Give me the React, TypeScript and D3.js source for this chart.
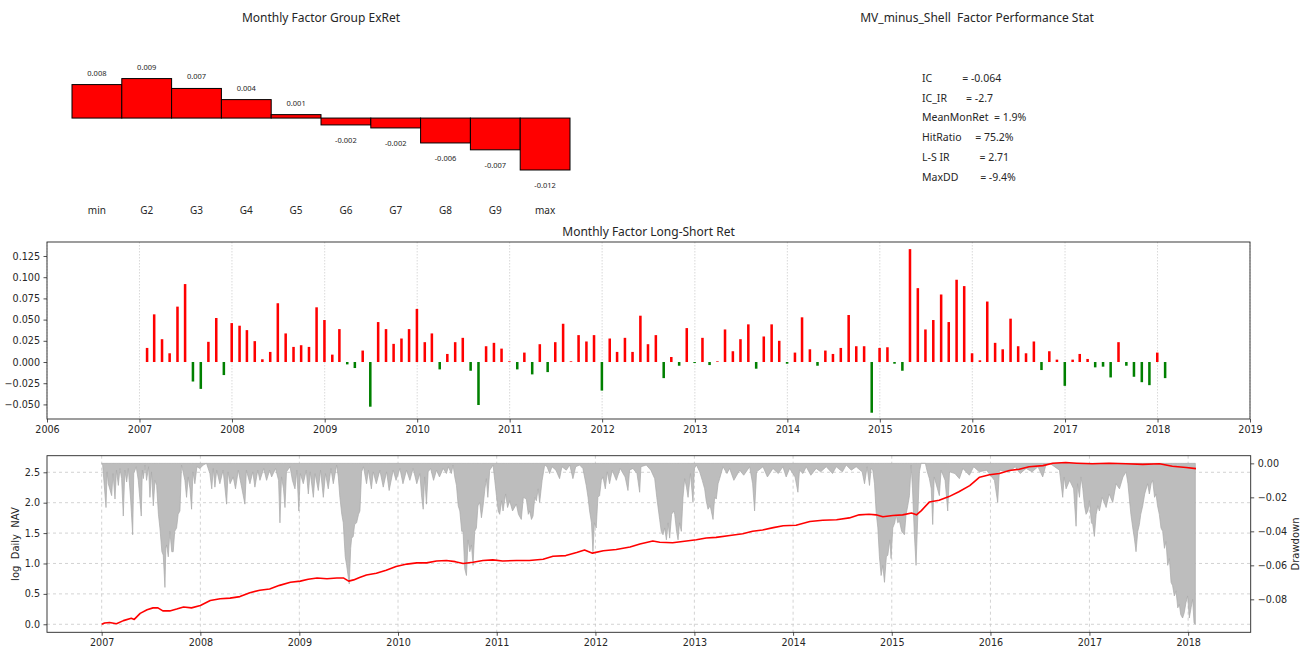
import * as d3 from 'd3';
import React, { useEffect, useRef } from 'react';

// ---- top left: group excess returns ----
const groupNames = ['min', 'G2', 'G3', 'G4', 'G5', 'G6', 'G7', 'G8', 'G9', 'max'];
const groupRet = [0.0078, 0.0092, 0.0069, 0.0043, 0.0008, -0.0016, -0.0023, -0.0058, -0.0074, -0.0121];

// ---- top right: stats ----
const statLabels = ['IC', 'IC_IR', 'MeanMonRet', 'HitRatio', 'L-S IR', 'MaxDD'];
const statValues = ['-0.064', '-2.7', '1.9%', '75.2%', '2.71', '-9.4%'];
const statGap = [11, 7, 2, 5, 11, 8];

// ---- middle: monthly long-short return, month ends from 2007-01 ----
const lsStartYear = 2007;
const lsMonthly = [
  // 2007
  0.0166, 0.0562, 0.0269, 0.0103, 0.0653, 0.0919, -0.023, -0.0317, 0.0238, 0.0519, -0.0154, 0.0459,
  // 2008
  0.0428, 0.0376, 0.0246, 0.0032, 0.0119, 0.0693, 0.0337, 0.0178, 0.0198, 0.0178, 0.0645, 0.0495,
  // 2009
  0.0087, 0.0388, -0.0028, -0.0071, 0.0135, -0.0527, 0.0471, 0.0388, 0.0214, 0.0277, 0.0388, 0.0626,
  // 2010
  0.0234, 0.0337, -0.0087, 0.0095, 0.0234, 0.0285, -0.0103, -0.0507, 0.0186, 0.0226, 0.0158, 0.0008,
  // 2011
  -0.0087, 0.0111, -0.0146, 0.021, -0.0119, 0.0234, 0.0451, 0.0008, 0.0317, 0.0242, 0.0317, -0.0337,
  // 2012
  0.0277, 0.0119, 0.0285, 0.0119, 0.0546, 0.021, 0.0317, -0.019, 0.0059, -0.0044, 0.04, -0.0012,
  // 2013
  0.0285, -0.0036, 0.0008, 0.0384, 0.0127, 0.0269, 0.0444, -0.0079, 0.0301, 0.0444, 0.025, -0.002,
  // 2014
  0.0111, 0.0527, 0.015, -0.0044, 0.0135, 0.0095, 0.0166, 0.0554, 0.0186, 0.0186, -0.0598, 0.0166,
  // 2015
  0.0174, -0.002, -0.0103, 0.1331, 0.0871, 0.0384, 0.0495, 0.0796, 0.0471, 0.097, 0.0895, 0.0103,
  // 2016
  0.002, 0.0713, 0.0226, 0.015, 0.0511, 0.0186, 0.0103, 0.0242, -0.0095, 0.0127, 0.0028, -0.0281,
  // 2017
  0.0028, 0.0095, 0.0036, -0.0063, -0.0055, -0.0182, 0.0234, -0.0044, -0.0174, -0.0238, -0.0273, 0.0111,
  // 2018
  -0.019,
];
const lsYLim = [-0.0672, 0.1415];
const lsYTicks = [-0.05, -0.025, 0, 0.025, 0.05, 0.075, 0.1, 0.125];

// ---- bottom: log daily NAV [decimal year, value] ----
const navPoints: [number, number][] = [
  [2007.0, 0.0], [2007.03, 0.02], [2007.08, 0.03], [2007.15, 0.01], [2007.22, 0.06], [2007.3, 0.1],
  [2007.33, 0.08], [2007.39, 0.18], [2007.46, 0.24], [2007.52, 0.27], [2007.57, 0.27], [2007.62, 0.22],
  [2007.69, 0.22], [2007.76, 0.25], [2007.83, 0.285], [2007.91, 0.27], [2008.0, 0.31], [2008.1, 0.39],
  [2008.2, 0.42], [2008.3, 0.43], [2008.4, 0.455], [2008.5, 0.52], [2008.6, 0.56], [2008.7, 0.58],
  [2008.8, 0.64], [2008.91, 0.69], [2009.01, 0.71], [2009.09, 0.74], [2009.18, 0.76], [2009.28, 0.75],
  [2009.38, 0.76], [2009.45, 0.76], [2009.5, 0.71], [2009.55, 0.73], [2009.61, 0.77], [2009.68, 0.81],
  [2009.78, 0.84], [2009.88, 0.89], [2009.98, 0.95], [2010.09, 0.99], [2010.19, 1.01], [2010.29, 1.01],
  [2010.39, 1.04], [2010.49, 1.05], [2010.58, 1.03], [2010.66, 1.0], [2010.76, 1.02], [2010.86, 1.05],
  [2010.96, 1.06], [2011.06, 1.04], [2011.2, 1.05], [2011.33, 1.05], [2011.47, 1.07], [2011.57, 1.12],
  [2011.7, 1.13], [2011.81, 1.18], [2011.89, 1.22], [2011.97, 1.17], [2012.08, 1.21], [2012.21, 1.23],
  [2012.35, 1.27], [2012.45, 1.32], [2012.58, 1.37], [2012.65, 1.35], [2012.78, 1.34], [2012.92, 1.37],
  [2013.02, 1.39], [2013.12, 1.42], [2013.22, 1.43], [2013.36, 1.46], [2013.49, 1.49], [2013.59, 1.53],
  [2013.69, 1.55], [2013.8, 1.59], [2013.9, 1.62], [2014.03, 1.63], [2014.17, 1.69], [2014.3, 1.71],
  [2014.44, 1.72], [2014.57, 1.75], [2014.67, 1.8], [2014.77, 1.81], [2014.84, 1.8], [2014.91, 1.77],
  [2015.01, 1.79], [2015.11, 1.8], [2015.2, 1.83], [2015.25, 1.8], [2015.3, 1.87], [2015.38, 2.01],
  [2015.48, 2.04], [2015.58, 2.1], [2015.68, 2.18], [2015.79, 2.28], [2015.89, 2.42], [2015.99, 2.46],
  [2016.09, 2.48], [2016.19, 2.53], [2016.29, 2.55], [2016.39, 2.59], [2016.53, 2.61], [2016.63, 2.65],
  [2016.76, 2.66], [2016.87, 2.65], [2017.03, 2.64], [2017.2, 2.65], [2017.37, 2.64], [2017.54, 2.63],
  [2017.71, 2.64], [2017.84, 2.6], [2017.98, 2.58], [2018.08, 2.56],
];

// ---- bottom: drawdown [decimal year, value] ----
const ddPoints: [number, number][] = [
  [2007.0, 0], [2007.01, -0.001], [2007.044, -0.026], [2007.055, -0.005], [2007.067, -0.012], [2007.101, -0.019],
  [2007.115, -0.006], [2007.135, -0.021], [2007.15, -0.004], [2007.169, -0.013], [2007.185, -0.003], [2007.202, -0.009],
  [2007.219, -0.031], [2007.235, -0.004], [2007.253, -0.011], [2007.27, -0.003], [2007.293, -0.021], [2007.314, -0.042],
  [2007.325, -0.006], [2007.35, -0.002], [2007.371, -0.01], [2007.401, -0.031], [2007.412, -0.004], [2007.422, -0.009],
  [2007.44, -0.001], [2007.455, -0.01], [2007.475, -0.002], [2007.489, -0.02], [2007.505, -0.005], [2007.523, -0.025],
  [2007.54, -0.01], [2007.557, -0.013], [2007.575, -0.03], [2007.59, -0.038], [2007.61, -0.052], [2007.624, -0.054],
  [2007.641, -0.073], [2007.65, -0.05], [2007.658, -0.048], [2007.675, -0.055], [2007.691, -0.04], [2007.71, -0.052],
  [2007.725, -0.052], [2007.74, -0.04], [2007.759, -0.038], [2007.775, -0.03], [2007.793, -0.028], [2007.809, -0.001],
  [2007.825, -0.005], [2007.843, -0.01], [2007.86, -0.02], [2007.877, -0.008], [2007.895, -0.015], [2007.911, -0.027],
  [2007.925, -0.005], [2007.944, -0.012], [2007.965, -0.002], [2007.995, -0.003], [2008.029, -0.001], [2008.062, 0],
  [2008.096, -0.006], [2008.115, -0.015], [2008.13, -0.003], [2008.147, -0.014], [2008.165, -0.004], [2008.197, -0.012],
  [2008.23, -0.004], [2008.265, -0.024], [2008.28, -0.005], [2008.3, -0.012], [2008.332, -0.008], [2008.355, -0.015],
  [2008.383, -0.004], [2008.41, -0.012], [2008.45, -0.024], [2008.465, -0.004], [2008.501, -0.012], [2008.53, -0.005],
  [2008.551, -0.014], [2008.58, -0.004], [2008.602, -0.01], [2008.64, -0.003], [2008.669, -0.01], [2008.7, -0.004],
  [2008.72, -0.008], [2008.76, -0.003], [2008.79, -0.01], [2008.804, -0.035], [2008.82, -0.008], [2008.84, -0.015],
  [2008.855, -0.026], [2008.87, -0.005], [2008.906, -0.002], [2008.93, -0.01], [2008.956, -0.015], [2008.975, -0.004],
  [2008.995, -0.028], [2009.01, -0.006], [2009.04, -0.012], [2009.07, -0.004], [2009.091, -0.018], [2009.11, -0.005],
  [2009.142, -0.02], [2009.16, -0.006], [2009.192, -0.016], [2009.215, -0.004], [2009.243, -0.02], [2009.265, -0.006],
  [2009.293, -0.015], [2009.32, -0.003], [2009.344, -0.012], [2009.378, -0.001], [2009.395, -0.008], [2009.411, -0.02],
  [2009.43, -0.03], [2009.445, -0.035], [2009.465, -0.055], [2009.479, -0.06], [2009.506, -0.071], [2009.52, -0.05],
  [2009.53, -0.044], [2009.546, -0.043], [2009.56, -0.036], [2009.58, -0.035], [2009.6, -0.03], [2009.614, -0.028],
  [2009.631, -0.005], [2009.65, -0.002], [2009.681, -0.012], [2009.7, -0.004], [2009.73, -0.015], [2009.749, -0.005],
  [2009.78, -0.012], [2009.816, -0.004], [2009.85, -0.014], [2009.884, -0.005], [2009.91, -0.016], [2009.951, -0.004],
  [2009.98, -0.01], [2010.019, -0.003], [2010.05, -0.012], [2010.086, -0.004], [2010.12, -0.01], [2010.153, -0.003],
  [2010.19, -0.012], [2010.221, -0.006], [2010.24, -0.02], [2010.255, -0.027], [2010.27, -0.008], [2010.288, -0.024],
  [2010.305, -0.005], [2010.33, -0.003], [2010.36, -0.01], [2010.39, -0.004], [2010.42, -0.008], [2010.457, -0.003],
  [2010.49, -0.006], [2010.51, -0.002], [2010.54, -0.006], [2010.558, -0.001], [2010.575, -0.008], [2010.592, -0.013],
  [2010.61, -0.025], [2010.626, -0.028], [2010.645, -0.04], [2010.659, -0.04], [2010.676, -0.062], [2010.693, -0.066],
  [2010.71, -0.045], [2010.727, -0.052], [2010.744, -0.048], [2010.76, -0.06], [2010.777, -0.04], [2010.794, -0.038],
  [2010.81, -0.025], [2010.828, -0.023], [2010.845, -0.032], [2010.862, -0.025], [2010.88, -0.015], [2010.895, -0.009],
  [2010.91, -0.02], [2010.929, -0.004], [2010.963, -0.001], [2010.98, -0.01], [2010.997, -0.019], [2011.015, -0.028],
  [2011.03, -0.03], [2011.05, -0.022], [2011.064, -0.028], [2011.09, -0.018], [2011.11, -0.026], [2011.131, -0.022],
  [2011.16, -0.028], [2011.199, -0.024], [2011.22, -0.03], [2011.249, -0.033], [2011.27, -0.02], [2011.3, -0.021],
  [2011.32, -0.03], [2011.334, -0.028], [2011.352, -0.033], [2011.368, -0.031], [2011.385, -0.02], [2011.401, -0.022],
  [2011.42, -0.015], [2011.435, -0.023], [2011.46, -0.01], [2011.486, -0.001], [2011.51, -0.002], [2011.536, -0.006],
  [2011.56, -0.002], [2011.6, -0.004], [2011.637, -0.009], [2011.66, -0.002], [2011.705, -0.004], [2011.74, -0.001],
  [2011.772, -0.009], [2011.8, -0.002], [2011.84, -0.001], [2011.873, -0.003], [2011.907, -0.013], [2011.925, -0.02],
  [2011.941, -0.028], [2011.96, -0.035], [2011.975, -0.052], [2011.99, -0.035], [2012.008, -0.038], [2012.025, -0.02],
  [2012.042, -0.019], [2012.06, -0.01], [2012.076, -0.008], [2012.1, -0.015], [2012.12, -0.005], [2012.143, -0.012],
  [2012.17, -0.004], [2012.211, -0.01], [2012.25, -0.003], [2012.3, -0.008], [2012.329, -0.016], [2012.345, -0.004],
  [2012.379, -0.003], [2012.42, -0.006], [2012.447, -0.017], [2012.46, -0.002], [2012.514, -0.001], [2012.56, -0.004],
  [2012.599, -0.009], [2012.62, -0.02], [2012.649, -0.033], [2012.665, -0.04], [2012.683, -0.042], [2012.7, -0.038],
  [2012.717, -0.045], [2012.735, -0.035], [2012.75, -0.044], [2012.77, -0.03], [2012.79, -0.028], [2012.801, -0.03],
  [2012.82, -0.04], [2012.835, -0.045], [2012.85, -0.035], [2012.868, -0.04], [2012.885, -0.02], [2012.902, -0.009],
  [2012.92, -0.014], [2012.936, -0.02], [2012.96, -0.006], [2012.986, -0.023], [2013.0, -0.003], [2013.02, -0.001],
  [2013.054, -0.005], [2013.08, -0.01], [2013.104, -0.015], [2013.12, -0.022], [2013.138, -0.027], [2013.16, -0.025],
  [2013.189, -0.033], [2013.205, -0.02], [2013.222, -0.021], [2013.24, -0.012], [2013.256, -0.009], [2013.29, -0.002],
  [2013.33, -0.006], [2013.357, -0.003], [2013.4, -0.01], [2013.459, -0.004], [2013.5, -0.007], [2013.56, -0.002],
  [2013.59, -0.012], [2013.61, -0.028], [2013.63, -0.005], [2013.695, -0.002], [2013.74, -0.008], [2013.796, -0.003],
  [2013.85, -0.006], [2013.897, -0.002], [2013.93, -0.008], [2013.965, -0.003], [2014.02, -0.008], [2014.049, -0.017],
  [2014.065, -0.004], [2014.1, -0.006], [2014.133, -0.002], [2014.18, -0.007], [2014.234, -0.003], [2014.28, -0.005],
  [2014.336, -0.002], [2014.4, -0.006], [2014.437, -0.002], [2014.5, -0.005], [2014.538, -0.001], [2014.59, -0.004],
  [2014.639, -0.002], [2014.7, -0.005], [2014.724, -0.012], [2014.75, -0.002], [2014.774, -0.013], [2014.79, -0.003],
  [2014.808, -0.004], [2014.825, -0.012], [2014.842, -0.029], [2014.859, -0.038], [2014.875, -0.055], [2014.892, -0.066],
  [2014.909, -0.06], [2014.926, -0.07], [2014.945, -0.055], [2014.96, -0.054], [2014.98, -0.045], [2014.993, -0.056],
  [2015.01, -0.038], [2015.03, -0.035], [2015.044, -0.03], [2015.06, -0.035], [2015.078, -0.034], [2015.1, -0.04],
  [2015.128, -0.042], [2015.145, -0.03], [2015.162, -0.025], [2015.179, -0.019], [2015.196, -0.001], [2015.21, -0.015],
  [2015.229, -0.042], [2015.246, -0.06], [2015.263, -0.032], [2015.28, -0.005], [2015.297, 0], [2015.34, 0],
  [2015.36, -0.005], [2015.381, -0.009], [2015.4, -0.015], [2015.415, -0.036], [2015.43, -0.008], [2015.482, -0.019],
  [2015.5, -0.004], [2015.54, -0.01], [2015.567, -0.028], [2015.585, -0.005], [2015.64, -0.006], [2015.685, -0.009],
  [2015.72, -0.003], [2015.786, -0.007], [2015.83, -0.002], [2015.887, -0.005], [2015.96, -0.004], [2016.04, -0.01],
  [2016.073, -0.023], [2016.09, -0.004], [2016.191, -0.005], [2016.25, -0.002], [2016.3, -0.006], [2016.36, -0.003],
  [2016.42, -0.005], [2016.48, -0.002], [2016.528, -0.008], [2016.56, -0.001], [2016.6, 0], [2016.697, -0.004],
  [2016.73, -0.02], [2016.745, -0.008], [2016.764, -0.015], [2016.8, -0.01], [2016.84, -0.015], [2016.865, -0.037],
  [2016.88, -0.012], [2016.899, -0.02], [2016.915, -0.008], [2016.933, -0.015], [2016.95, -0.025], [2016.966, -0.03],
  [2016.985, -0.028], [2017.0, -0.022], [2017.02, -0.035], [2017.034, -0.036], [2017.05, -0.043], [2017.068, -0.03],
  [2017.085, -0.025], [2017.101, -0.028], [2017.13, -0.02], [2017.169, -0.026], [2017.2, -0.018], [2017.236, -0.023],
  [2017.27, -0.012], [2017.304, -0.015], [2017.34, -0.008], [2017.371, -0.005], [2017.39, -0.012], [2017.405, -0.021],
  [2017.42, -0.03], [2017.439, -0.038], [2017.455, -0.044], [2017.472, -0.052], [2017.49, -0.04], [2017.506, -0.036],
  [2017.52, -0.03], [2017.54, -0.025], [2017.56, -0.018], [2017.59, -0.012], [2017.607, -0.018], [2017.625, -0.012],
  [2017.641, -0.01], [2017.66, -0.02], [2017.675, -0.018], [2017.69, -0.025], [2017.708, -0.03], [2017.725, -0.038],
  [2017.742, -0.04], [2017.76, -0.05], [2017.776, -0.046], [2017.793, -0.06], [2017.81, -0.056], [2017.827, -0.07],
  [2017.843, -0.072], [2017.86, -0.078], [2017.877, -0.075], [2017.895, -0.085], [2017.911, -0.083], [2017.925, -0.089],
  [2017.944, -0.091], [2017.96, -0.088], [2017.978, -0.082], [2017.995, -0.078], [2018.012, -0.091], [2018.03, -0.085],
  [2018.046, -0.08], [2018.06, -0.094], [2018.073, -0.0947],
];
const navYLim = [-0.132, 2.773];
const navYTicks = [0, 0.5, 1, 1.5, 2, 2.5];
const ddYLim = [-0.0994, 0.0045];
const ddYTicks = [-0.08, -0.06, -0.04, -0.02, 0];

const yearToDate = (y: number) => {
  const yr = Math.floor(y);
  const a = Date.UTC(yr, 0, 1);
  const b = Date.UTC(yr + 1, 0, 1);
  return new Date(a + (y - yr) * (b - a));
};

const TITLE_FONT = '"Noto Sans", "Open Sans", sans-serif';
const TICK_FONT = '"DejaVu Sans", sans-serif';
const INK = '#262626';

// layout
const mid = { l: 47, r: 1250, t: 242, b: 419 };
const bot = { l: 47, r: 1250.7, t: 455.7, b: 632.3 };

export default function App() {
  const midXRef = useRef<SVGGElement>(null);
  const midYRef = useRef<SVGGElement>(null);
  const botXRef = useRef<SVGGElement>(null);
  const botYLRef = useRef<SVGGElement>(null);
  const botYRRef = useRef<SVGGElement>(null);

  // top-left bars
  const xGroup = d3.scaleBand().domain(groupNames).range([72, 570]).padding(0);
  const yGroup = d3.scaleLinear().domain([-0.0135, 0.0105]).range([176, 73]);

  // middle
  const lsDates = lsMonthly.map((_, i) => new Date(Date.UTC(lsStartYear, i + 1, 0)));
  const xMid = d3.scaleUtc().domain([new Date(Date.UTC(2006, 0, 1)), new Date(Date.UTC(2019, 0, 1))]).range([mid.l, mid.r]);
  const yMid = d3.scaleLinear().domain(lsYLim).range([mid.b, mid.t]);
  const barW = xMid(new Date(Date.UTC(2007, 0, 11))) - xMid(new Date(Date.UTC(2007, 0, 1)));

  // bottom
  const first = navPoints[0][0];
  const last = navPoints[navPoints.length - 1][0];
  const pad = (last - first) * 0.05;
  const xBot = d3.scaleUtc().domain([yearToDate(first - pad), yearToDate(last + pad)]).range([bot.l, bot.r]);
  const yNav = d3.scaleLinear().domain(navYLim).range([bot.b, bot.t]);
  const yDD = d3.scaleLinear().domain(ddYLim).range([bot.b, bot.t]);

  const navLine = d3.line<[number, number]>().x((d) => xBot(yearToDate(d[0]))).y((d) => yNav(d[1]));
  const ddArea = d3
    .area<[number, number]>()
    .x((d) => xBot(yearToDate(d[0])))
    .y0(yDD(0))
    .y1((d) => yDD(d[1]));

  const midYears = d3.range(2006, 2020).map((y) => new Date(Date.UTC(y, 0, 1)));
  const botYears = d3.range(2007, 2019).map((y) => new Date(Date.UTC(y, 0, 1)));

  useEffect(() => {
    const style = (g: any) => {
      g.select('.domain').remove();
      g.selectAll('line').attr('stroke', INK).attr('stroke-width', 0.8);
      g.selectAll('text').attr('font-family', TICK_FONT).attr('font-size', 9.6).attr('fill', INK);
    };
    d3.select(midXRef.current)
      .call(d3.axisBottom(xMid).tickValues(midYears).tickFormat(d3.utcFormat('%Y') as any).tickSize(3.5).tickPadding(3.5))
      .call(style);
    d3.select(midYRef.current)
      .call(d3.axisLeft(yMid).tickValues(lsYTicks).tickFormat(d3.format('.3f') as any).tickSize(3.5).tickPadding(3.5))
      .call(style);
    d3.select(botXRef.current)
      .call(d3.axisBottom(xBot).tickValues(botYears).tickFormat(d3.utcFormat('%Y') as any).tickSize(3.5).tickPadding(3.5))
      .call(style);
    d3.select(botYLRef.current)
      .call(d3.axisLeft(yNav).tickValues(navYTicks).tickFormat(d3.format('.1f') as any).tickSize(3.5).tickPadding(3.5))
      .call(style);
    d3.select(botYRRef.current)
      .call(d3.axisRight(yDD).tickValues(ddYTicks).tickFormat(d3.format('.2f') as any).tickSize(3.5).tickPadding(3.5))
      .call(style);
  }, []);

  return (
    <svg width={1300} height={648} style={{ display: 'block', position: 'absolute', left: 0, top: 0 }}>
      <rect width={1300} height={648} fill="#fff" />

      {/* top-left */}
      <text x={321} y={22} textAnchor="middle" fontFamily={TITLE_FONT} fontSize={12} fill={INK}>
        Monthly Factor Group ExRet
      </text>
      {groupRet.map((v, i) => {
        const name = groupNames[i];
        const x0 = xGroup(name)!;
        const y0 = yGroup(Math.max(0, v));
        const y1 = yGroup(Math.min(0, v));
        return (
          <g key={name}>
            <rect x={x0} y={y0} width={xGroup.bandwidth()} height={Math.max(1, y1 - y0)} fill="#ff0000" stroke="#000" strokeWidth={1} />
            <text
              x={x0 + xGroup.bandwidth() / 2}
              y={v >= 0 ? y0 - 9 : y1 + 18}
              textAnchor="middle"
              fontFamily={TITLE_FONT}
              fontSize={7.5}
              fill={INK}
            >
              {v.toFixed(3)}
            </text>
            <text x={x0 + xGroup.bandwidth() / 2} y={214} textAnchor="middle" fontFamily={TITLE_FONT} fontSize={10} fill={INK}>
              {name}
            </text>
          </g>
        );
      })}

      {/* top-right stats */}
      <text x={977} y={22} textAnchor="middle" fontFamily={TITLE_FONT} fontSize={12} fill={INK} style={{ whiteSpace: 'pre' }}>
        {'MV_minus_Shell  Factor Performance Stat'}
      </text>
      {statLabels.map((s, i) => (
        <text
          key={s}
          x={922}
          y={82 + i * 19.7}
          fontFamily={TITLE_FONT}
          fontSize={10.5}
          fill={INK}
          style={{ whiteSpace: 'pre' }}
        >
          {s + ' '.repeat(statGap[i]) + '= ' + statValues[i]}
        </text>
      ))}

      {/* middle */}
      <text x={(mid.l + mid.r) / 2} y={236} textAnchor="middle" fontFamily={TITLE_FONT} fontSize={12} fill={INK}>
        Monthly Factor Long-Short Ret
      </text>
      {midYears.map((d) => (
        <line key={+d} x1={xMid(d)} x2={xMid(d)} y1={mid.t} y2={mid.b} stroke="#cfcfcf" strokeWidth={0.8} strokeDasharray="1.5,1.5" />
      ))}
      {lsMonthly.map((v, i) => {
        const cx = xMid(lsDates[i]);
        const y0 = yMid(Math.max(0, v));
        const y1 = yMid(Math.min(0, v));
        return (
          <rect
            key={i}
            x={cx - barW / 2}
            y={y0}
            width={barW}
            height={Math.max(0.6, y1 - y0)}
            fill={v >= 0 ? '#ff0000' : '#008000'}
          />
        );
      })}
      <rect x={mid.l} y={mid.t} width={mid.r - mid.l} height={mid.b - mid.t} fill="none" stroke={INK} strokeWidth={0.9} />
      <g ref={midXRef} transform={`translate(0,${mid.b})`} />
      <g ref={midYRef} transform={`translate(${mid.l},0)`} />

      {/* bottom */}
      {botYears.map((d) => (
        <line key={+d} x1={xBot(d)} x2={xBot(d)} y1={bot.t} y2={bot.b} stroke="#c8c8c8" strokeWidth={0.8} strokeDasharray="3,3" />
      ))}
      {navYTicks.map((t) => (
        <line key={t} x1={bot.l} x2={bot.r} y1={yNav(t)} y2={yNav(t)} stroke="#c8c8c8" strokeWidth={0.8} strokeDasharray="3,3" />
      ))}
      <path d={ddArea(ddPoints)!} fill="#bdbdbd" stroke="#a9a9a9" strokeWidth={0.7} />
      <path d={navLine(navPoints)!} fill="none" stroke="#ff0000" strokeWidth={1.6} strokeLinejoin="round" />
      <rect x={bot.l} y={bot.t} width={bot.r - bot.l} height={bot.b - bot.t} fill="none" stroke={INK} strokeWidth={0.9} />
      <g ref={botXRef} transform={`translate(0,${bot.b})`} />
      <g ref={botYLRef} transform={`translate(${bot.l},0)`} />
      <g ref={botYRRef} transform={`translate(${bot.r},0)`} />
      <text
        transform={`translate(19,${(bot.t + bot.b) / 2}) rotate(-90)`}
        textAnchor="middle"
        fontFamily={TICK_FONT}
        fontSize={10}
        fill={INK}
        style={{ whiteSpace: 'pre' }}
      >
        {'log  Daily  NAV'}
      </text>
      <text
        transform={`translate(1299,${(bot.t + bot.b) / 2}) rotate(-90)`}
        textAnchor="middle"
        fontFamily={TICK_FONT}
        fontSize={10}
        fill={INK}
      >
        Drawdown
      </text>
    </svg>
  );
}
